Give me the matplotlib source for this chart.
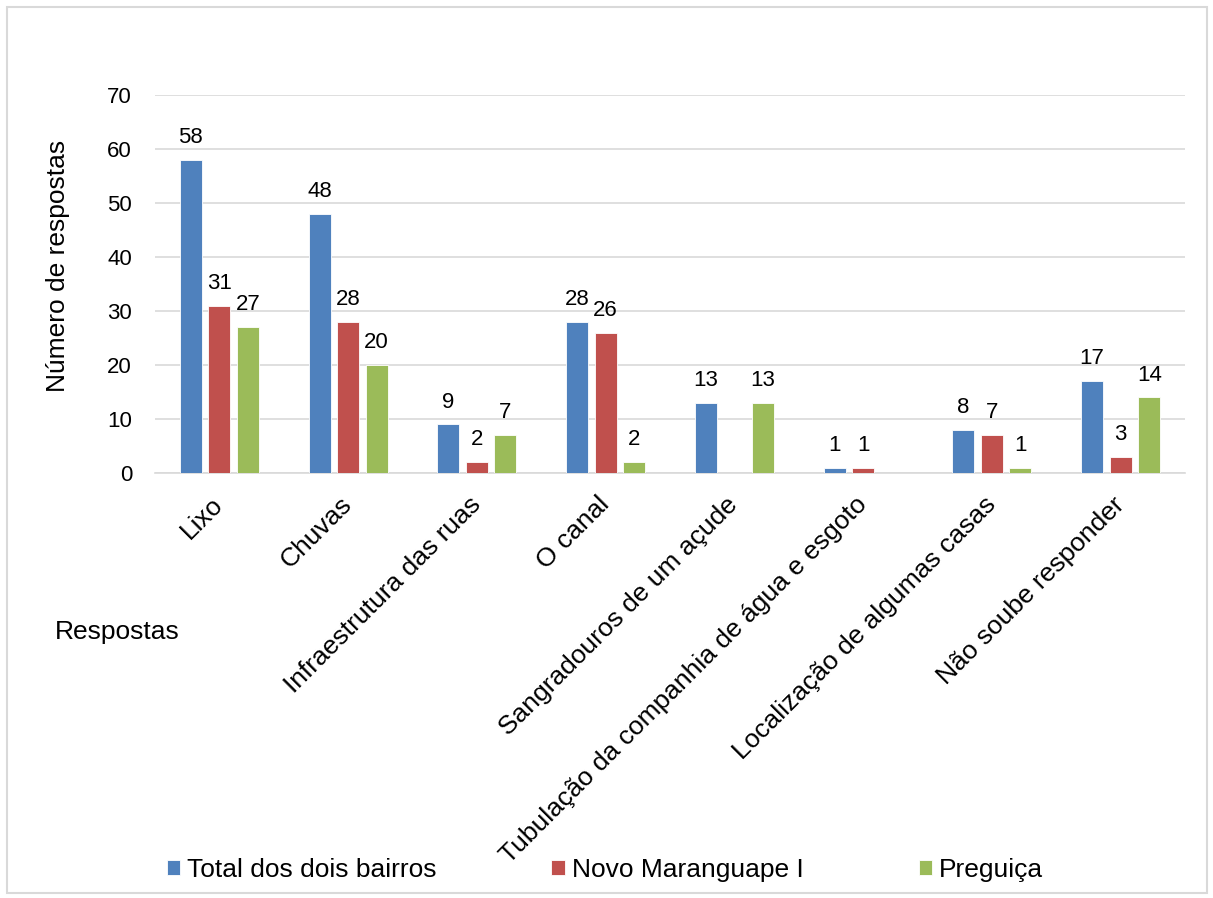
import numpy as np
import matplotlib.pyplot as plt
from matplotlib.patches import Rectangle

plt.rcParams['font.family'] = ['Liberation Sans', 'DejaVu Sans']

categorias = ['Lixo', 'Chuvas', 'Infraestrutura das ruas', 'O canal',
              'Sangradouros de um açude', 'Tubulação da companhia de água e esgoto',
              'Localização de algumas casas', 'Não soube responder']
total = [58, 48, 9, 28, 13, 1, 8, 17]
novo = [31, 28, 2, 26, 0, 1, 7, 3]
preguica = [27, 20, 7, 2, 13, 0, 1, 14]
series = ['Total dos dois bairros', 'Novo Maranguape I', 'Preguiça']
cores = ['#4F81BD', '#C0504D', '#9BBB59']

fig = plt.figure(figsize=(12.13, 8.98), dpi=100)
fig.patches.append(Rectangle((7 / 1213, 5 / 898), 1200 / 1213, 886 / 898,
                             transform=fig.transFigure, fill=False,
                             edgecolor='#D9D9D9', linewidth=1.5))
ax = fig.add_axes([155 / 1213, (898 - 473) / 898, 1030 / 1213, 378 / 898])

x = np.arange(len(categorias))
w = 0.171
step = 0.222
for i, (vals, cor) in enumerate(zip([total, novo, preguica], cores)):
    pos = x + (i - 1) * step
    bars = ax.bar(pos, vals, width=w, color=cor, edgecolor='white',
                  linewidth=0.6, label=series[i], zorder=3)
    for b, v in zip(bars, vals):
        if v > 0:
            ax.annotate(str(v), (b.get_x() + b.get_width() / 2, v),
                        xytext=(0, 8.5), textcoords='offset points',
                        ha='center', va='bottom', fontsize=16)

ax.set_xlim(-0.5, len(categorias) - 0.5)
ax.set_ylim(0, 70)
ax.set_yticks(range(0, 71, 10))
ax.yaxis.grid(True, color='#D9D9D9', linewidth=1.2, zorder=0)
ax.set_axisbelow(True)
for s in ['top', 'right', 'left']:
    ax.spines[s].set_visible(False)
ax.spines['bottom'].set_color('#D9D9D9')
ax.spines['bottom'].set_linewidth(1.2)
ax.tick_params(axis='both', length=0)
ax.tick_params(axis='y', labelsize=16, pad=16.5)
ax.set_xticks(x)
ax.set_xticklabels(categorias, rotation=45, ha='right', va='center',
                   rotation_mode='anchor', fontsize=19)
ax.tick_params(axis='x', pad=20)

fig.text(58 / 1213, 1 - 266 / 898, 'Número de respostas', rotation=90,
         ha='center', va='center', fontsize=19)
fig.text(55 / 1213, 1 - 632 / 898, 'Respostas', ha='left', va='center',
         fontsize=19)

fig.legend(loc='center left', bbox_to_anchor=(156 / 1213, 1 - 870 / 898),
           ncol=3, frameon=False, fontsize=19, handlelength=0.5,
           handleheight=0.5, handletextpad=0.27, columnspacing=4.36,
           borderaxespad=0)

fig.savefig('out.png', dpi=100)
